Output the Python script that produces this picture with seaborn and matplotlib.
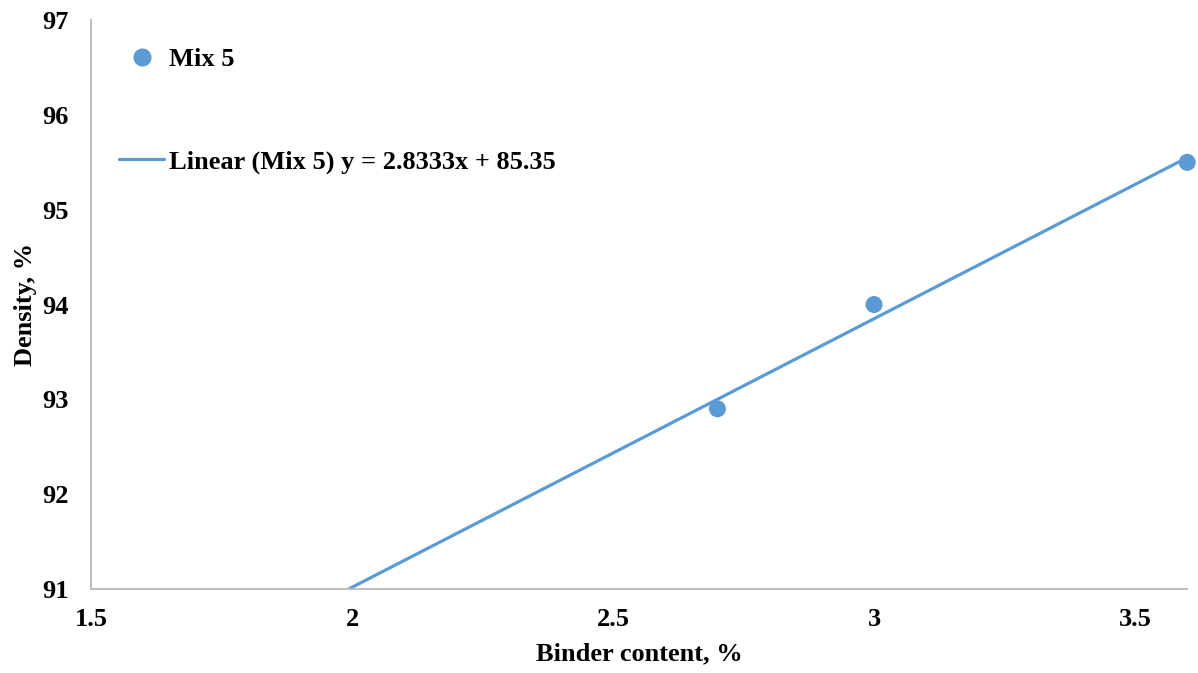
import numpy as np
import pandas as pd
import seaborn as sns
import matplotlib.pyplot as plt
from matplotlib.lines import Line2D

# Dados
binder = [2.7, 3.0, 3.6]
density = [92.9, 94.0, 95.5]
x_ticks = [1.5, 2, 2.5, 3, 3.5]
y_ticks = [91, 92, 93, 94, 95, 96, 97]

cor = "#5B9BD5"

sns.set_style("white")
plt.rcParams['font.family'] = ['Liberation Serif', 'DejaVu Serif']
plt.rcParams['font.weight'] = 'bold'
plt.rcParams['text.color'] = 'black'
plt.rcParams['axes.labelcolor'] = 'black'
plt.rcParams['xtick.color'] = 'black'
plt.rcParams['ytick.color'] = 'black'

df = pd.DataFrame({'binder': binder, 'density': density})

# Linha de tendencia linear (como no Excel)
a, b = np.polyfit(df['binder'], df['density'], 1)
tend = pd.DataFrame({'x': [1.5, 3.6]})
tend['y'] = a * tend['x'] + b

fig = plt.figure(figsize=(11.98, 6.73), dpi=100)
ax = fig.add_axes([0.076, 0.125, 0.915, 0.845])

sns.lineplot(data=tend, x='x', y='y', ax=ax, color=cor, linewidth=2.3, zorder=2)
sns.scatterplot(data=df, x='binder', y='density', ax=ax, color=cor, s=150,
                edgecolor='none', zorder=3, clip_on=False)

ax.set_xlim(1.5, 3.6)
ax.set_ylim(91, 97)
ax.set_xticks(x_ticks)
ax.set_xticklabels(['1.5', '2', '2.5', '3', '3.5'])
ax.set_yticks(y_ticks)
ax.tick_params(axis='both', length=0, labelsize=19, labelcolor='black')
ax.tick_params(axis='x', pad=14)
ax.tick_params(axis='y', pad=16)
for lbl in ax.get_xticklabels() + ax.get_yticklabels():
    lbl.set_fontweight('bold')

ax.set_xlabel("Binder content, %", fontsize=19, fontweight='bold', labelpad=8)
ax.set_ylabel("Density, %", fontsize=19, fontweight='bold', labelpad=4)

for s in ['top', 'right']:
    ax.spines[s].set_visible(False)
for s in ['left', 'bottom']:
    ax.spines[s].set_color('#BFBFBF')
    ax.spines[s].set_linewidth(1.5)

h1 = Line2D([], [], marker='o', color=cor, linestyle='none', markersize=12)
h2 = Line2D([], [], color=cor, linewidth=2.3)
ax.legend([h1, h2], ["Mix 5", "Linear (Mix 5) y = 2.8333x + 85.35"],
          loc='upper left', bbox_to_anchor=(0.004, 0.994), frameon=False,
          labelspacing=3.0, handlelength=1.7, handletextpad=0.2,
          prop={'weight': 'bold', 'size': 19})

plt.savefig("out.png", dpi=100)
